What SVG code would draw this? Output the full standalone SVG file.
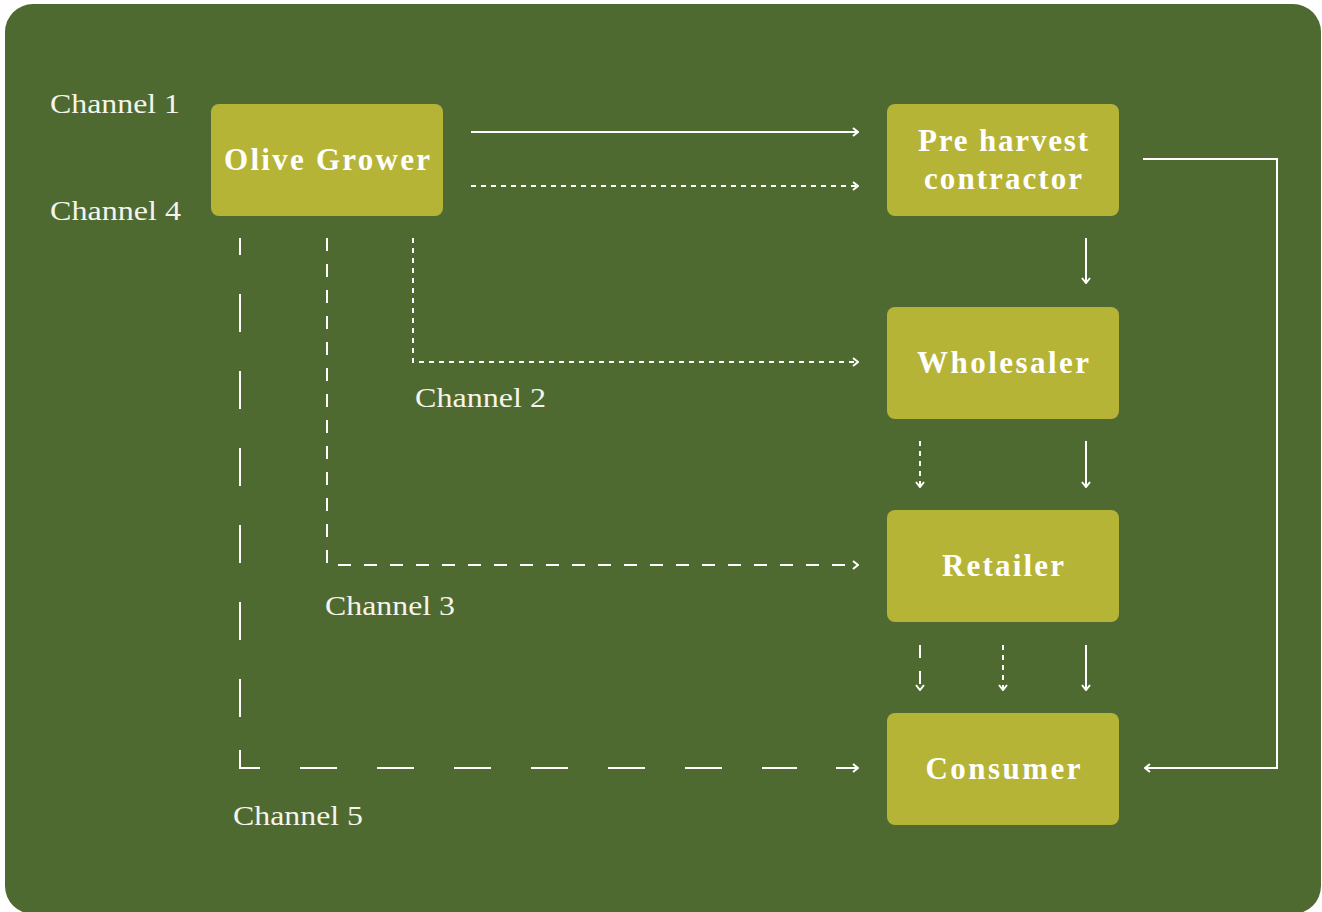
<svg xmlns="http://www.w3.org/2000/svg" width="1322" height="912" viewBox="0 0 1322 912">
  <defs>
    <style>
      .bg { fill: #4f6a30; }
      .box { fill: #b6b437; }
      .boxtxt { font-family: "Liberation Serif", "DejaVu Serif", serif; font-weight: bold; font-size: 31px; fill: #ffffff; text-anchor: middle; }
      .lbl { font-family: "Liberation Serif", "DejaVu Serif", serif; font-size: 28px; fill: #f4f4ec; }
      .ln { fill: none; stroke: #ffffff; stroke-width: 2; }
      .dot { stroke-dasharray: 5 5; }
      .dash { stroke-dasharray: 13 13; }
      .long { stroke-dasharray: 38 39; }
    </style>
    <marker id="head" viewBox="0 0 10 10" refX="9" refY="5" markerWidth="10" markerHeight="10" markerUnits="userSpaceOnUse" orient="auto">
      <polyline points="4,1 9,5 4,9" fill="none" stroke="#ffffff" stroke-width="2"/>
    </marker>
  </defs>

  <rect class="bg" x="5" y="4" width="1316" height="910" rx="28"/>

  <!-- channel labels -->
  <text class="lbl" x="50" y="113" textLength="130" lengthAdjust="spacingAndGlyphs">Channel 1</text>
  <text class="lbl" x="50" y="220" textLength="131" lengthAdjust="spacingAndGlyphs">Channel 4</text>
  <text class="lbl" x="415" y="407" textLength="131" lengthAdjust="spacingAndGlyphs">Channel 2</text>
  <text class="lbl" x="325" y="615" textLength="130" lengthAdjust="spacingAndGlyphs">Channel 3</text>
  <text class="lbl" x="233" y="825" textLength="130" lengthAdjust="spacingAndGlyphs">Channel 5</text>

  <!-- nodes -->
  <g id="olive-grower">
    <rect class="box" x="211" y="104" width="232" height="112" rx="8"/>
    <text class="boxtxt" x="327" y="170" textLength="206" lengthAdjust="spacing">Olive Grower</text>
  </g>
  <g id="pre-harvest-contractor">
    <rect class="box" x="887" y="104" width="232" height="112" rx="8"/>
    <text class="boxtxt" x="1003" y="151" textLength="170" lengthAdjust="spacing">Pre harvest</text>
    <text class="boxtxt" x="1003" y="189" textLength="158" lengthAdjust="spacing">contractor</text>
  </g>
  <g id="wholesaler">
    <rect class="box" x="887" y="307" width="232" height="112" rx="8"/>
    <text class="boxtxt" x="1003" y="373" textLength="172" lengthAdjust="spacing">Wholesaler</text>
  </g>
  <g id="retailer">
    <rect class="box" x="887" y="510" width="232" height="112" rx="8"/>
    <text class="boxtxt" x="1003" y="576" textLength="122" lengthAdjust="spacing">Retailer</text>
  </g>
  <g id="consumer">
    <rect class="box" x="887" y="713" width="232" height="112" rx="8"/>
    <text class="boxtxt" x="1003" y="779" textLength="155" lengthAdjust="spacing">Consumer</text>
  </g>

  <!-- connectors -->
  <g id="connectors">
    <!-- channel 1 -->
    <path class="ln" d="M471,132 H858" marker-end="url(#head)"/>
    <path class="ln" d="M1086,238 V283" marker-end="url(#head)"/>
    <path class="ln" d="M1086,441 V487" marker-end="url(#head)"/>
    <path class="ln" d="M1086,645 V690" marker-end="url(#head)"/>
    <!-- channel 4 -->
    <path class="ln dot" d="M471,186 H858" marker-end="url(#head)"/>
    <path class="ln" d="M1143,159 H1277 V768 H1145" marker-end="url(#head)"/>
    <!-- channel 2 -->
    <path class="ln dot" d="M413,238 V362 H858" marker-end="url(#head)"/>
    <path class="ln dot" d="M920,441 V487" marker-end="url(#head)"/>
    <path class="ln dot" d="M1003,645 V690" marker-end="url(#head)"/>
    <!-- channel 3 -->
    <path class="ln dash" d="M327,238 V565 H858" marker-end="url(#head)"/>
    <path class="ln dash" d="M920,645 V690" marker-end="url(#head)"/>
    <!-- channel 5 -->
    <path class="ln long" d="M240,238 V748" stroke-dashoffset="21"/>
    <path class="ln" d="M240,750 V768 H260"/>
    <path class="ln" d="M300,768 H797" stroke-dasharray="37 40"/>
    <path class="ln" d="M836,768 H858" marker-end="url(#head)"/>
  </g>
</svg>
